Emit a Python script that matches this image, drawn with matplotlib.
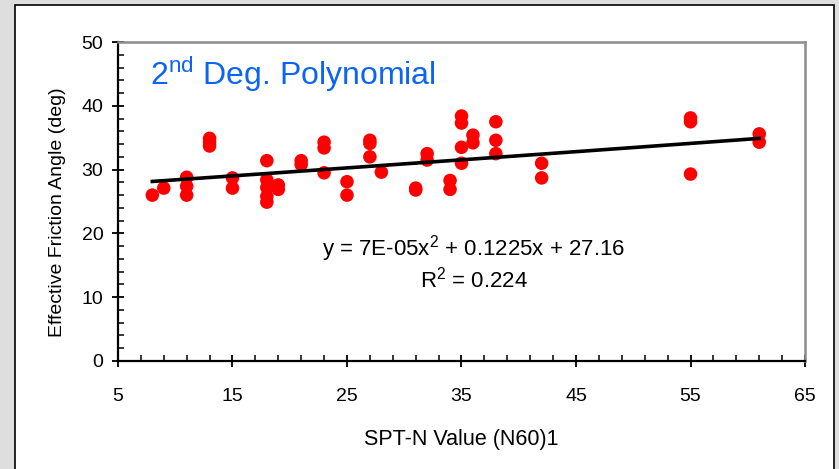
import numpy as np
import matplotlib
matplotlib.use("Agg")
import matplotlib.pyplot as plt
from matplotlib.patches import Rectangle
from matplotlib.ticker import MultipleLocator

plt.rcParams['font.family'] = ['Liberation Sans', 'DejaVu Sans']

# SPT-N (N60)1 values and effective friction angles
spt_n = [8, 9, 11, 11, 11, 13, 13, 13, 15, 15,
         18, 18, 18, 18, 18, 19, 19, 21, 21, 23, 23, 23,
         25, 25, 27, 27, 27, 28, 31, 31, 32, 32, 34, 34,
         35, 35, 35, 35, 36, 36, 38, 38, 38, 42, 42,
         55, 55, 55, 61, 61]
phi = [26.0, 27.1, 28.8, 27.4, 26.0, 34.9, 34.3, 33.7, 28.7, 27.1,
       31.4, 28.4, 27.2, 25.8, 24.9, 27.6, 26.9, 31.4, 30.8, 34.3, 33.4, 29.5,
       28.1, 26.0, 34.6, 34.1, 32.0, 29.6, 27.1, 26.8, 32.5, 31.5, 28.3, 26.9,
       38.4, 37.3, 33.5, 31.0, 35.4, 34.2, 37.5, 34.6, 32.5, 31.0, 28.7,
       38.1, 37.5, 29.3, 35.6, 34.3]

x_ticks = [5, 15, 25, 35, 45, 55, 65]

# second-degree trendline coefficients
a2, a1, a0 = 7e-05, 0.1225, 27.16
r2 = 0.224

fig = plt.figure(figsize=(8.39, 4.69), dpi=100)
fig.patch.set_facecolor('#dedede')
fig.patches.append(Rectangle((15 / 839, -0.01), (834 - 15) / 839, 1.01 - 5 / 469,
                             transform=fig.transFigure, facecolor='white',
                             edgecolor='black', linewidth=1.2, zorder=-10))

ax = fig.add_axes([0.1406, 0.2303, 0.8189, 0.6801])
ax.set_facecolor('white')

ax.scatter(spt_n, phi, s=95, color='#ff0000', edgecolors='none', zorder=3)

xs = np.linspace(min(spt_n), max(spt_n), 60)
ax.plot(xs, a2 * xs**2 + a1 * xs + a0, color='black', lw=2.6, zorder=4)

ax.set_xlim(5, 65)
ax.set_ylim(0, 50)
ax.set_xticks(x_ticks)
ax.xaxis.set_minor_locator(MultipleLocator(2, offset=1))
ax.yaxis.set_major_locator(MultipleLocator(10))
ax.yaxis.set_minor_locator(MultipleLocator(2))
ax.tick_params(which='major', direction='inout', length=9, width=1.3,
               labelsize=14, pad=6)
ax.tick_params(axis='x', which='major', pad=15)
ax.tick_params(which='minor', direction='in', length=4, width=1.1)

for side in ['top', 'right']:
    ax.spines[side].set_color('#8c8c8c')
    ax.spines[side].set_linewidth(1.8)
for side in ['left', 'bottom']:
    ax.spines[side].set_color('black')
    ax.spines[side].set_linewidth(1.6)

ax.set_xlabel('SPT-N Value (N60)1', fontsize=15.5, labelpad=17)
ax.set_ylabel('Effective Friction Angle (deg)', fontsize=14)
ax.yaxis.set_label_coords(-0.076, 0.465)

ax.text(0.047, 0.865, '2$^{\\mathregular{nd}}$ Deg. Polynomial', transform=ax.transAxes,
        fontsize=23, color='#0a64f5', va='baseline')

ax.text(0.518, 0.332, 'y = 7E-05x$^{\\mathregular{2}}$ + 0.1225x + 27.16',
        transform=ax.transAxes, fontsize=16, ha='center', va='baseline')
ax.text(0.518, 0.229, 'R$^{\\mathregular{2}}$ = %.3f' % r2,
        transform=ax.transAxes, fontsize=16, ha='center', va='baseline')

fig.savefig('out.png', dpi=100, facecolor=fig.get_facecolor())
